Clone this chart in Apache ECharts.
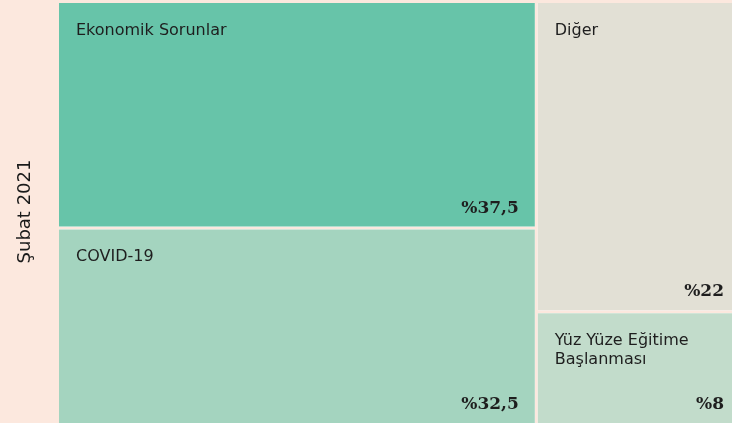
<!DOCTYPE html>
<html>
<head>
<meta charset="utf-8">
<script src="https://cdn.jsdelivr.net/npm/echarts@6/dist/echarts.min.js"></script>
<style>
  html, body { margin: 0; padding: 0; background: #fce8de; }
  #chart { width: 732px; height: 423px; }
</style>
</head>
<body>
<div id="chart"></div>
<script>
const names = ['Ekonomik Sorunlar', 'COVID-19', 'Diğer', 'Yüz Yüze Eğitime\nBaşlanması']
const values = [37.5, 32.5, 22, 8]
const colors = ['#67c4a9', '#a4d4bf', '#e2e0d5', '#c2dccb']
const periodLabel = 'Şubat 2021'

const bg = '#fce8de'
const chart = echarts.init(document.getElementById('chart'))

function buildData(withColor) {
  return names.map((n, i) => ({
    name: n,
    value: values[i],
    itemStyle: { color: withColor ? colors[i] : 'rgba(0,0,0,0)' }
  }))
}

// same layout twice: one for name labels, one for the percentages
const common = {
  type: 'treemap',
  left: 59,
  top: 3,
  right: -8,
  bottom: 0,
  roam: false,
  nodeClick: false,
  breadcrumb: { show: false },
  sort: 'desc',
  animation: false,
  levels: [{ itemStyle: { gapWidth: 3, borderWidth: 0, borderColor: bg } }]
}

chart.setOption({
  backgroundColor: bg,
  graphic: [{
    type: 'text',
    left: 16,
    top: 'middle',
    rotation: Math.PI / 2,
    style: {
      text: periodLabel,
      font: '18px "DejaVu Sans"',
      fill: '#1a1a1a'
    }
  }],
  series: [
    Object.assign({}, common, {
      data: buildData(true),
      label: {
        show: true,
        position: 'insideTopLeft',
        distance: 0,
        padding: [18, 0, 0, 17],
        color: '#1e1e1e',
        fontFamily: 'DejaVu Sans',
        fontSize: 16,
        lineHeight: 19,
        formatter: p => p.name
      }
    }),
    Object.assign({}, common, {
      silent: true,
      data: buildData(false),
      label: {
        show: true,
        position: 'insideBottomRight',
        distance: 0,
        padding: [0, 16, 10, 0],
        color: '#1e1e1e',
        fontFamily: 'DejaVu Serif',
        fontWeight: 'bold',
        fontSize: 17,
        formatter: p => '%' + String(p.value).replace('.', ',')
      }
    })
  ]
})
</script>
</body>
</html>
